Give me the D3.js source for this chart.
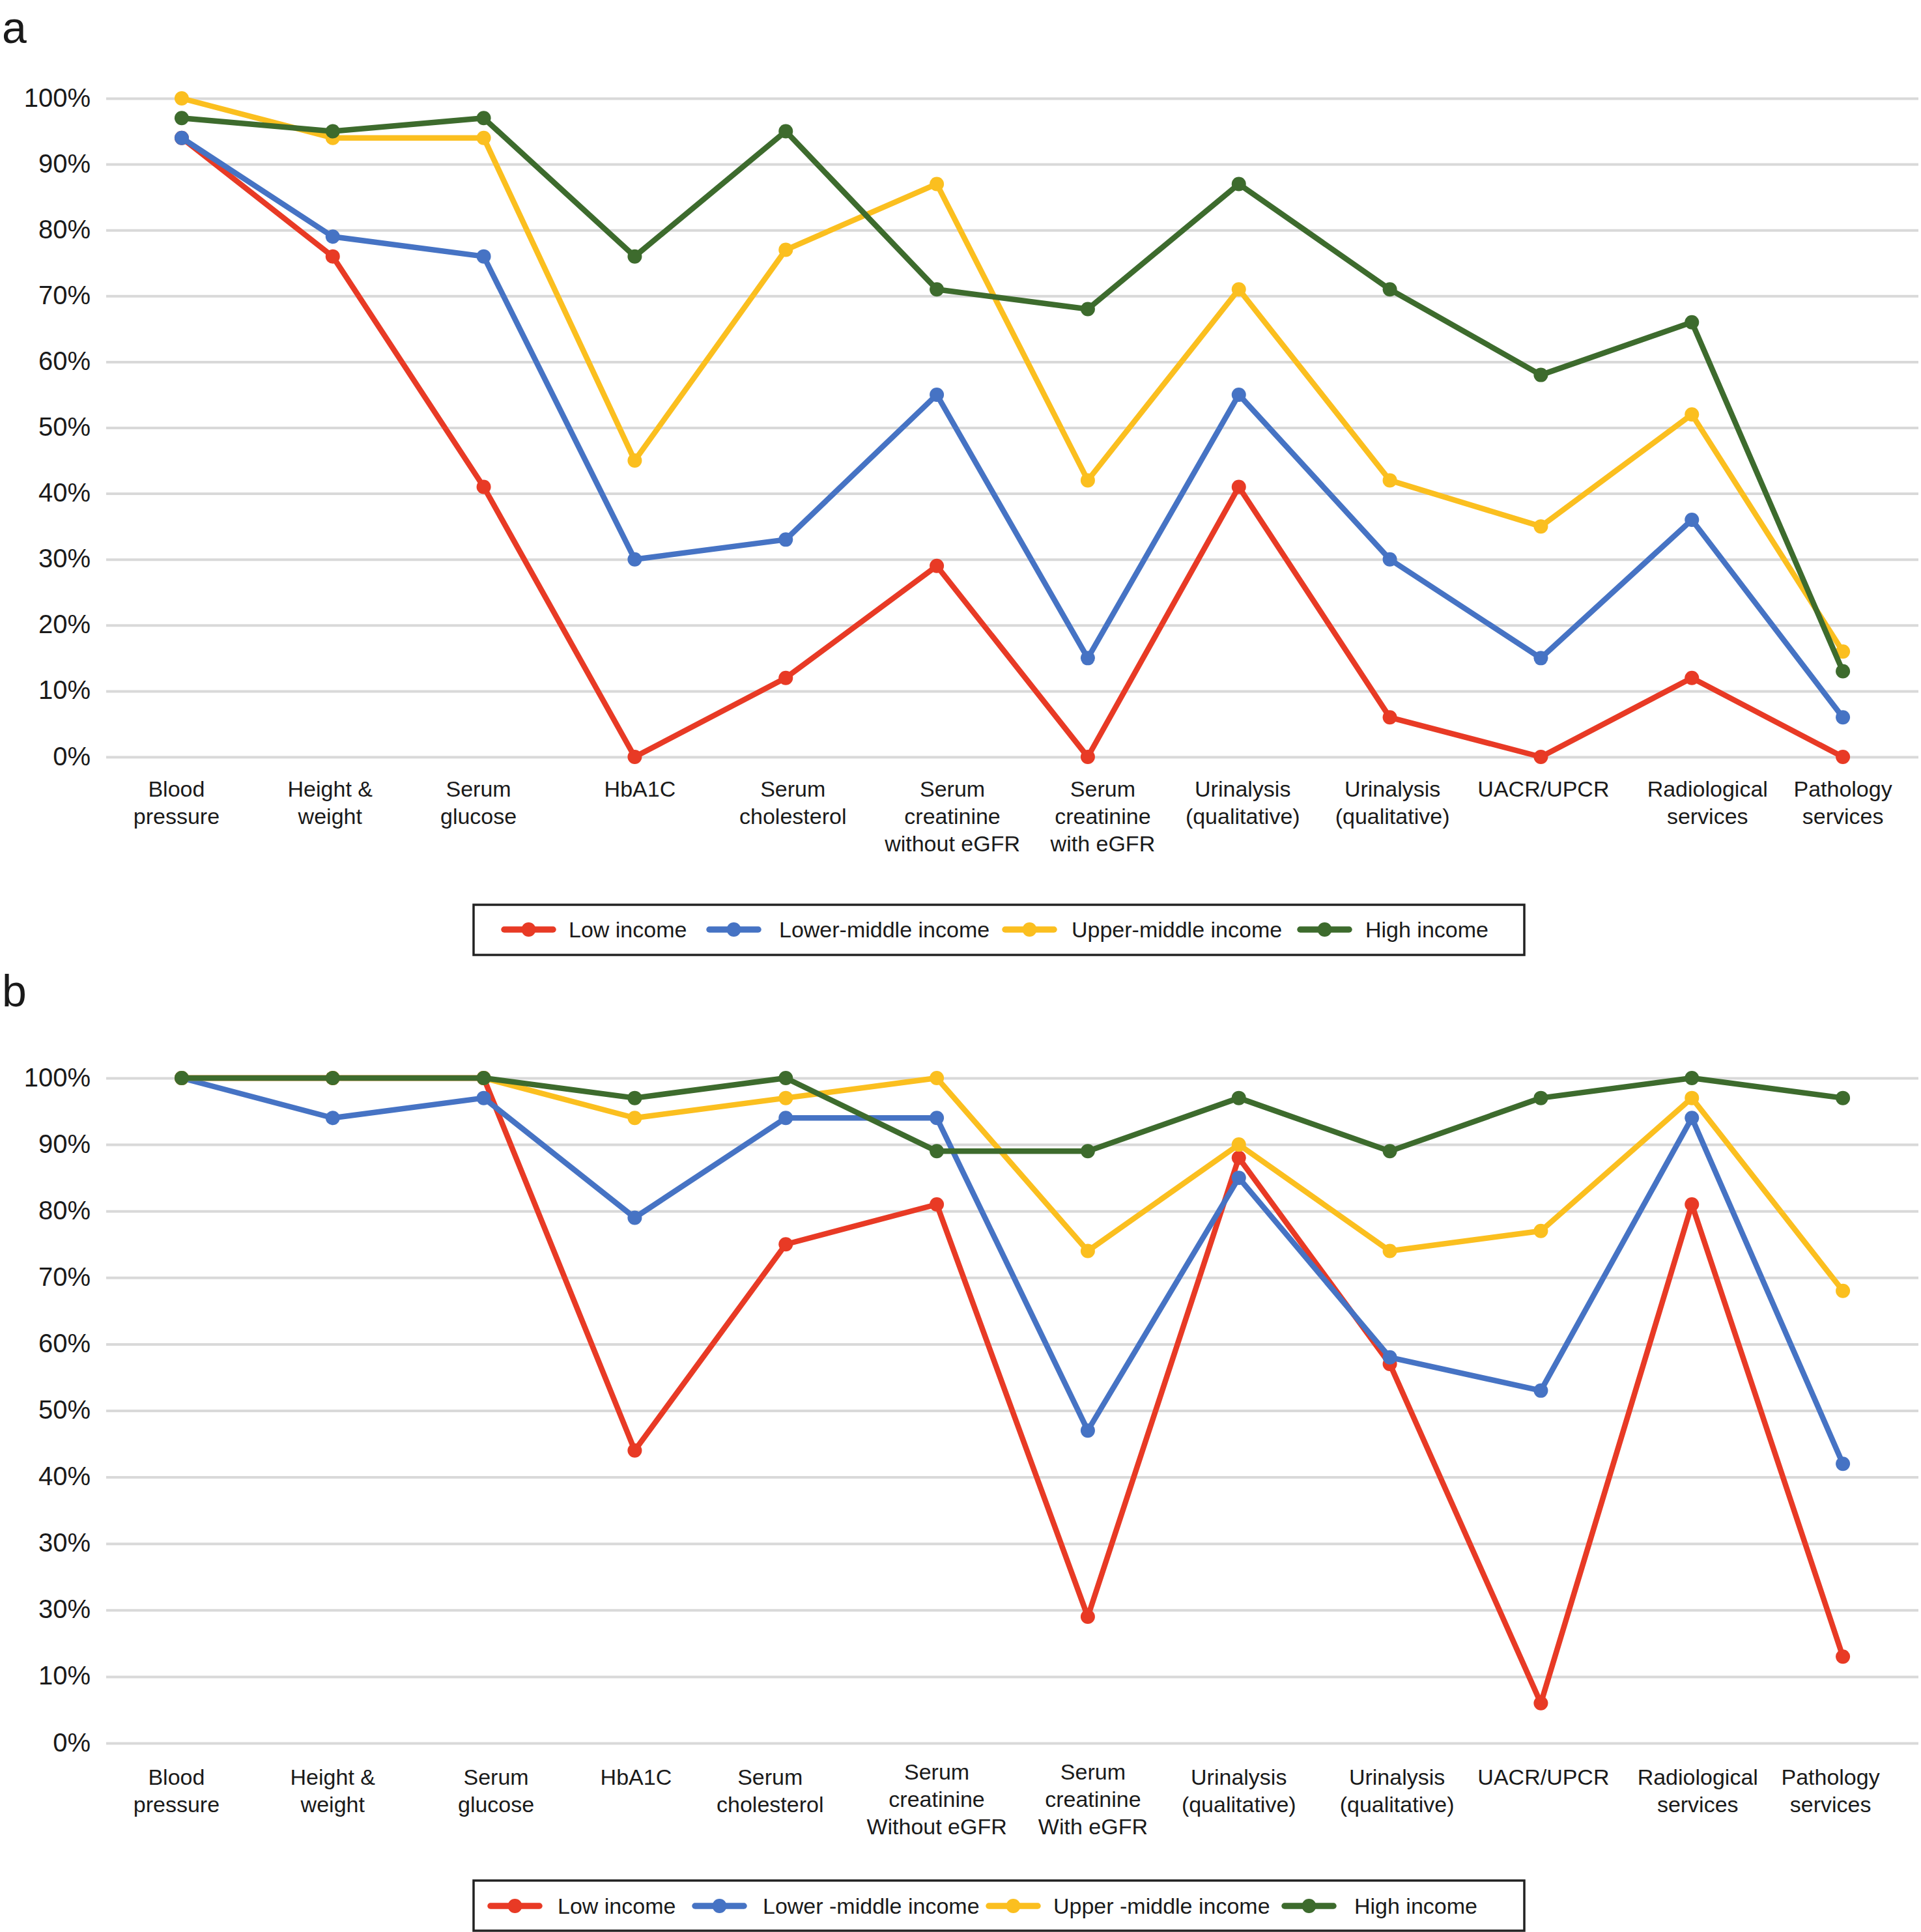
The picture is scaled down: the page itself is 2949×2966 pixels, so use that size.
<!DOCTYPE html>
<html>
<head>
<meta charset="utf-8">
<script src="https://cdn.jsdelivr.net/npm/d3@7"></script>
<style>
  html, body { margin: 0; padding: 0; background: #fff; }
  svg { display: block; }
  text { font-family: "Liberation Sans", Arial, Helvetica, sans-serif; fill: #1a1a1a; }
</style>
</head>
<body>
<script>
// ---------------- DATA ----------------
const seriesNames = ["Low income", "Lower-middle income", "Upper-middle income", "High income"];
const seriesNamesB = ["Low income", "Lower -middle income", "Upper -middle income", "High income"];
const seriesColors = ["#E83A25", "#4673C4", "#FBBF1F", "#3D6B2D"];

const categoriesA = ["Blood\npressure", "Height &\nweight", "Serum\nglucose", "HbA1C", "Serum\ncholesterol",
  "Serum\ncreatinine\nwithout eGFR", "Serum\ncreatinine\nwith eGFR", "Urinalysis\n(qualitative)",
  "Urinalysis\n(qualitative)", "UACR/UPCR", "Radiological\nservices", "Pathology\nservices"];
const categoriesB = ["Blood\npressure", "Height &\nweight", "Serum\nglucose", "HbA1C", "Serum\ncholesterol",
  "Serum\ncreatinine\nWithout eGFR", "Serum\ncreatinine\nWith eGFR", "Urinalysis\n(qualitative)",
  "Urinalysis\n(qualitative)", "UACR/UPCR", "Radiological\nservices", "Pathology\nservices"];

const lowA      = [94, 76, 41, 0, 12, 29, 0, 41, 6, 0, 12, 0];
const lowerMidA = [94, 79, 76, 30, 33, 55, 15, 55, 30, 15, 36, 6];
const upperMidA = [100, 94, 94, 45, 77, 87, 42, 71, 42, 35, 52, 16];
const highA     = [97, 95, 97, 76, 95, 71, 68, 87, 71, 58, 66, 13];

const lowB      = [100, 100, 100, 44, 75, 81, 19, 88, 57, 6, 81, 13];
const lowerMidB = [100, 94, 97, 79, 94, 94, 47, 85, 58, 53, 94, 42];
const upperMidB = [100, 100, 100, 94, 97, 100, 74, 90, 74, 77, 97, 68];
const highB     = [100, 100, 100, 97, 100, 89, 89, 97, 89, 97, 100, 97];

const tickValues = [0, 10, 20, 30, 40, 50, 60, 70, 80, 90, 100];
const tickLabelsA = ["0%", "10%", "20%", "30%", "40%", "50%", "60%", "70%", "80%", "90%", "100%"];
const tickLabelsB = ["0%", "10%", "30%", "30%", "40%", "50%", "60%", "70%", "80%", "90%", "100%"];

// ---------------- LAYOUT ----------------
const W = 2949, H = 2966;
const panels = [
  { letter: "a", letterY: 66, cats: categoriesA, series: [lowA, lowerMidA, upperMidA, highA],
    names: seriesNames, ticks: tickLabelsA, y0: 1162, y1: 151,
    labelBase2: 1223, labelBase3: 1223,
    labelShift: [-8, -4, -8, 8, 11, 24, 23, 6, 4, 4, 24, 0],
    legend: { box: [727, 1389, 2340, 1466], cy: 1427, sym: [770, 1085, 1539, 1992], txt: [873, 1196, 1645, 2096] } },
  { letter: "b", letterY: 1545, cats: categoriesB, series: [lowB, lowerMidB, upperMidB, highB],
    names: seriesNamesB, ticks: tickLabelsB, y0: 2676, y1: 1655,
    labelBase2: 2740, labelBase3: 2732,
    labelShift: [-8, 0, 19, 2, -24, 0, 8, 0, 11, 4, 9, -19],
    legend: { box: [727, 2887, 2340, 2964], cy: 2926, sym: [749, 1063, 1514, 1968], txt: [856, 1171, 1617, 2079] } }
];
const xLeft = 163, xRight = 2945;
const lineW = 8.5, dotR = 11, symLen = 83;

const svg = d3.select("body").append("svg").attr("width", W).attr("height", H);
svg.append("rect").attr("width", W).attr("height", H).attr("fill", "#fff");

panels.forEach(p => {
  const g = svg.append("g");
  const x = d3.scalePoint().domain(d3.range(p.cats.length)).range([xLeft, xRight]).padding(0.5);
  const y = d3.scaleLinear().domain([0, 100]).range([p.y0, p.y1]);

  // panel letter
  g.append("text").attr("x", 3).attr("y", p.letterY).attr("font-size", 68).text(p.letter);

  // y axis with grid
  const yAxis = d3.axisLeft(y).tickValues(tickValues)
    .tickFormat((d, i) => p.ticks[i])
    .tickSize(-(xRight - xLeft)).tickPadding(24);
  const ax = g.append("g").attr("transform", `translate(${xLeft},0)`).call(yAxis);
  ax.select(".domain").remove();
  ax.selectAll(".tick line").attr("stroke", "#d9d9d9").attr("stroke-width", 4);
  ax.selectAll(".tick text").attr("font-size", 40).attr("fill", "#1a1a1a")
    .attr("font-family", '"Liberation Sans", Arial, sans-serif').attr("dy", "0.3em");

  // category labels
  const lab = g.append("g");
  p.cats.forEach((c, i) => {
    const lines = c.split("\n");
    const base = lines.length === 3 ? p.labelBase3 : p.labelBase2;
    const t = lab.append("text").attr("text-anchor", "middle").attr("font-size", 34)
      .attr("x", x(i) + p.labelShift[i]).attr("y", base);
    lines.forEach((ln, k) => {
      t.append("tspan").attr("x", x(i) + p.labelShift[i]).attr("dy", k === 0 ? 0 : 42).text(ln);
    });
  });

  // series
  const line = d3.line().x((d, i) => x(i)).y(d => y(d));
  p.series.forEach((s, si) => {
    const sg = g.append("g");
    sg.append("path").datum(s).attr("d", line).attr("fill", "none")
      .attr("stroke", seriesColors[si]).attr("stroke-width", lineW)
      .attr("stroke-linejoin", "round").attr("stroke-linecap", "round");
    sg.selectAll("circle").data(s).enter().append("circle")
      .attr("cx", (d, i) => x(i)).attr("cy", d => y(d)).attr("r", dotR)
      .attr("fill", seriesColors[si]);
  });

  // legend
  const L = p.legend;
  const lg = g.append("g");
  lg.append("rect").attr("x", L.box[0]).attr("y", L.box[1])
    .attr("width", L.box[2] - L.box[0]).attr("height", L.box[3] - L.box[1])
    .attr("fill", "#fff").attr("stroke", "#222").attr("stroke-width", 3.5);
  p.names.forEach((n, i) => {
    lg.append("line").attr("x1", L.sym[i] + 4).attr("x2", L.sym[i] + symLen - 4)
      .attr("y1", L.cy).attr("y2", L.cy).attr("stroke", seriesColors[i])
      .attr("stroke-width", lineW + 1).attr("stroke-linecap", "round");
    lg.append("circle").attr("cx", L.sym[i] + symLen / 2).attr("cy", L.cy).attr("r", dotR)
      .attr("fill", seriesColors[i]);
    lg.append("text").attr("x", L.txt[i]).attr("y", L.cy + 12).attr("font-size", 34).text(n);
  });
});
</script>
</body>
</html>
